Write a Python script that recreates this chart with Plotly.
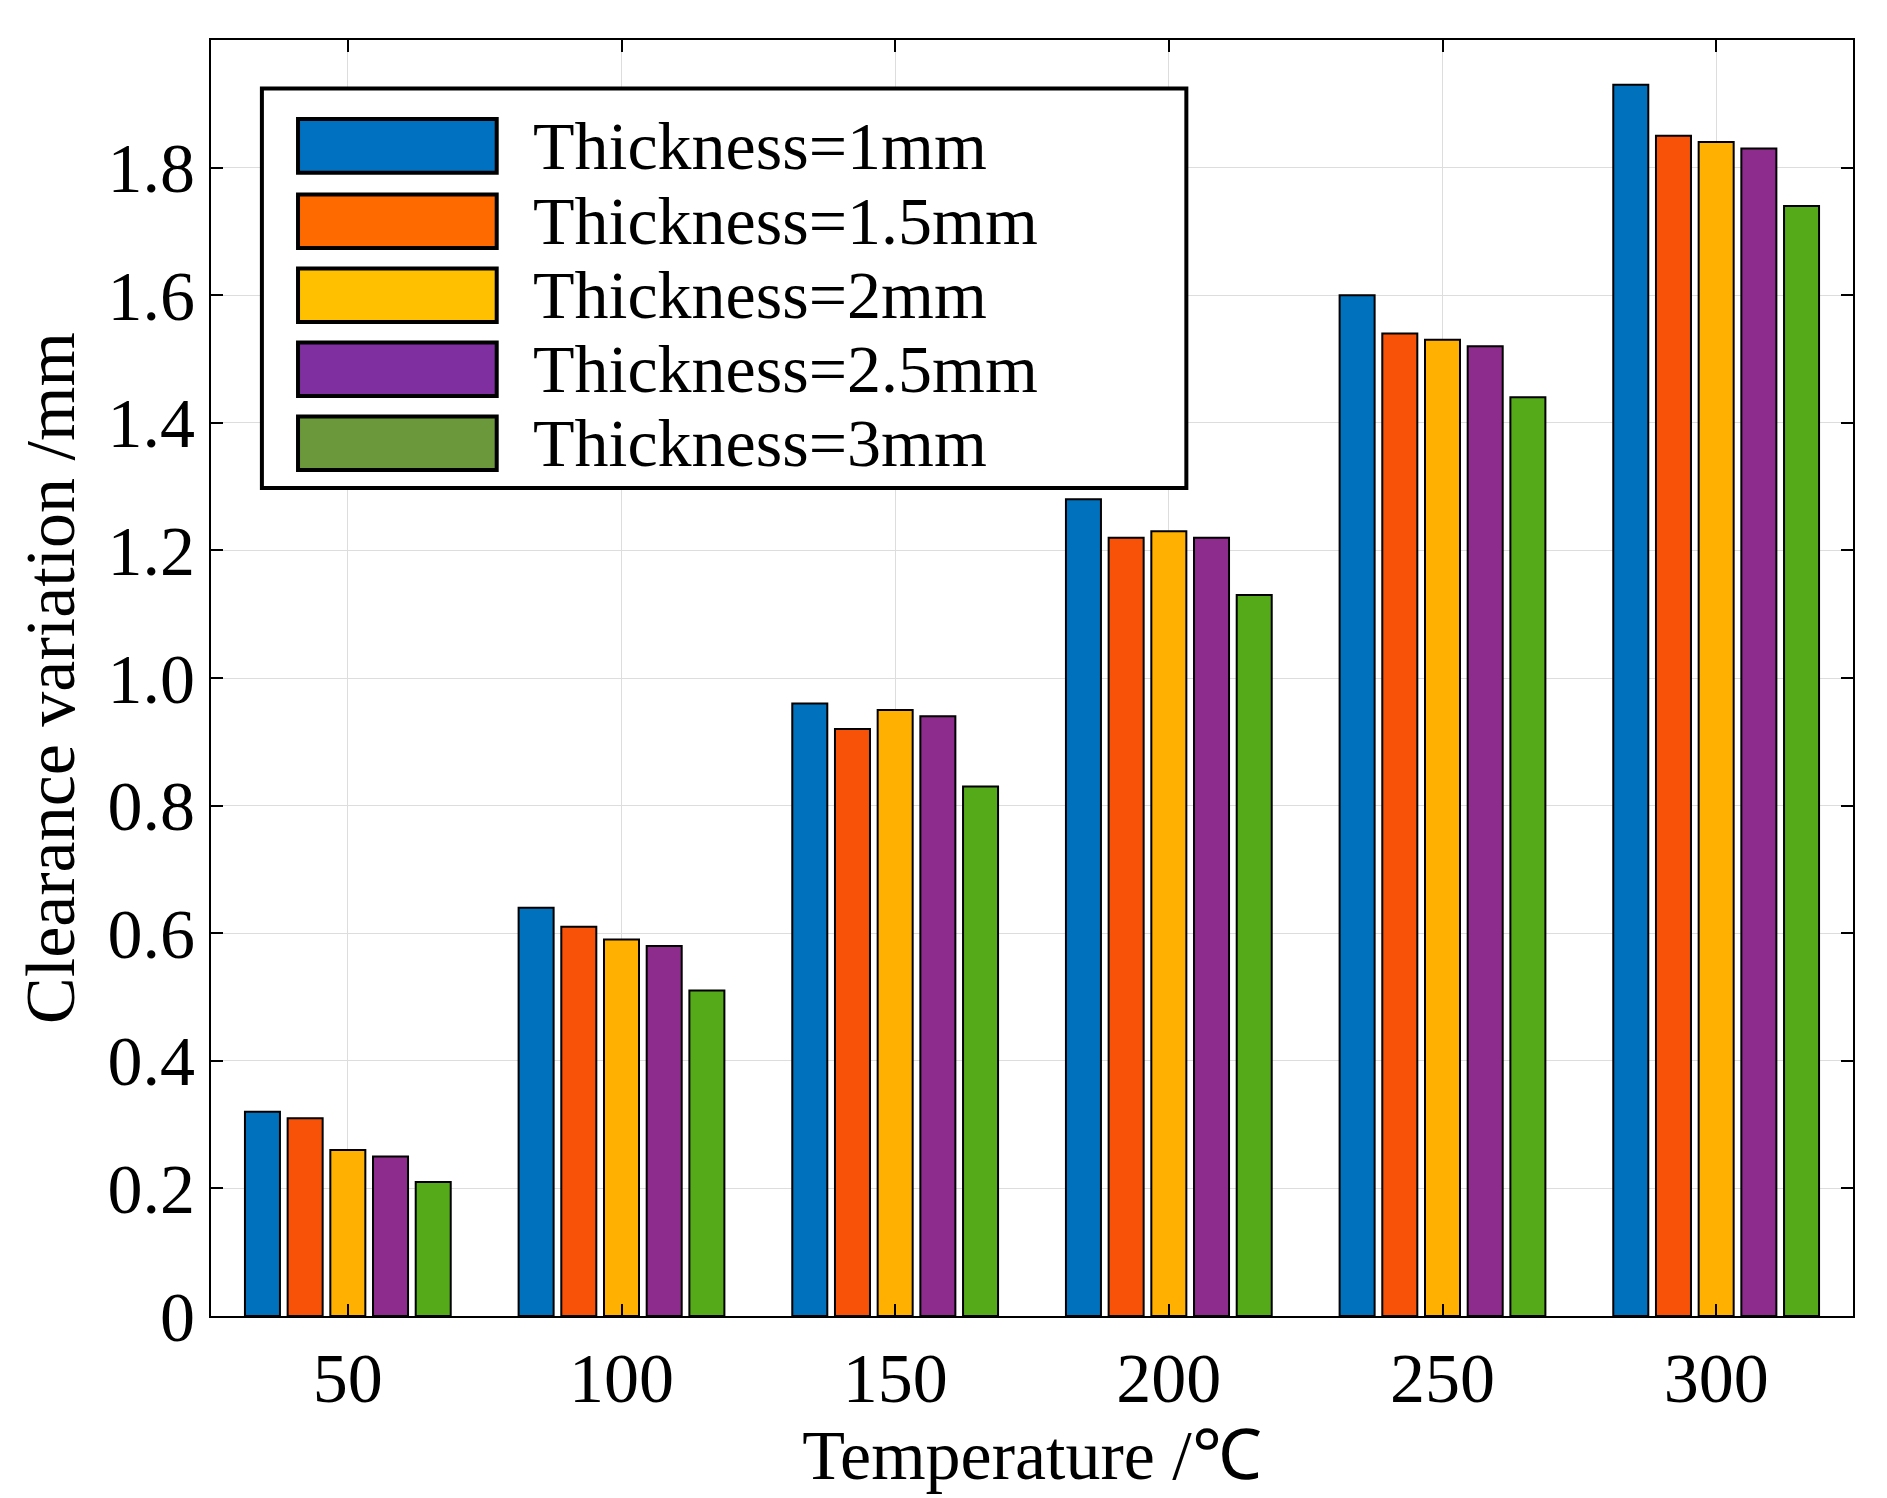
import plotly.graph_objects as go

temps = ["50", "100", "150", "200", "250", "300"]
names = ["Thickness=1mm", "Thickness=1.5mm", "Thickness=2mm", "Thickness=2.5mm", "Thickness=3mm"]
t1 = [0.32, 0.64, 0.96, 1.28, 1.60, 1.93]
t15 = [0.31, 0.61, 0.92, 1.22, 1.54, 1.85]
t2 = [0.26, 0.59, 0.95, 1.23, 1.53, 1.84]
t25 = [0.25, 0.58, 0.94, 1.22, 1.52, 1.83]
t3 = [0.21, 0.51, 0.83, 1.13, 1.44, 1.74]
yticks = [0, 0.2, 0.4, 0.6, 0.8, 1.0, 1.2, 1.4, 1.6, 1.8, 2.0]
yticklabels = ["0", "0.2", "0.4", "0.6", "0.8", "1.0", "1.2", "1.4", "1.6", "1.8", "2.0"]

colors = ["#0072BD", "#F85208", "#FFB000", "#8E2C8E", "#55AA1A"]
legend_colors = ["#0070C0", "#FF6A00", "#FFC000", "#7F2FA0", "#6A983A"]
FONT = "Liberation Serif, Times New Roman, serif"

fig = go.Figure()
for name, vals, c in zip(names, [t1, t15, t2, t25, t3], colors):
    fig.add_trace(go.Bar(x=temps, y=vals, name=name, marker_color=c,
                         marker_line=dict(color="black", width=2), showlegend=False))

# hand-drawn legend (large swatches like the original)
shapes = [dict(type="rect", xref="paper", yref="paper", x0=0.031, x1=0.594, y0=0.649, y1=0.962,
               line=dict(color="black", width=4), fillcolor="white", layer="above")]
annotations = []
row_y = [0.917, 0.858, 0.800, 0.742, 0.684]
for name, c, yc in zip(names, legend_colors, row_y):
    shapes.append(dict(type="rect", xref="paper", yref="paper", x0=0.053, x1=0.174,
                       y0=yc - 0.021, y1=yc + 0.021, fillcolor=c,
                       line=dict(color="black", width=4), layer="above"))
    annotations.append(dict(xref="paper", yref="paper", x=0.195, y=yc, xanchor="left",
                            yanchor="middle", text=name, showarrow=False,
                            font=dict(family=FONT, size=68, color="black")))

axis_common = dict(showline=True, linecolor="black", linewidth=2, mirror="ticks",
                   ticks="inside", ticklen=12, tickwidth=2, tickcolor="black",
                   showgrid=True, gridcolor="#DDDDDD", gridwidth=1,
                   tickfont=dict(family=FONT, size=70, color="black"))

fig.update_layout(
    width=1887, height=1498,
    paper_bgcolor="white", plot_bgcolor="white",
    margin=dict(l=203, r=42, t=32, b=190),
    barmode="group", bargap=0.22, bargroupgap=0.18,
    font=dict(family=FONT, color="black"),
    xaxis=dict(**axis_common,
               title=dict(text="Temperature /℃", font=dict(family=FONT, size=70), standoff=0)),
    yaxis=dict(**axis_common, range=[0, 2.0], tickvals=yticks, ticktext=yticklabels,
               title=dict(text="Clearance variation /mm", font=dict(family=FONT, size=70), standoff=10)),
    shapes=shapes, annotations=annotations,
)

fig.write_html("out.html")
